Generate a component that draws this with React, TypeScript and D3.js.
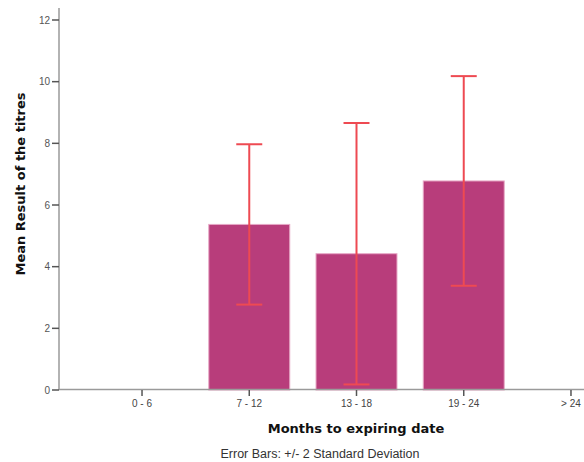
import React from "react";
import * as d3 from "d3";

const categories = ["0 - 6", "7 - 12", "13 - 18", "19 - 24", "> 24"];
const means: (number | null)[] = [null, 5.37, 4.42, 6.78, null];
const errHalf: (number | null)[] = [null, 2.6, 4.24, 3.4, null];
const yTicks = [0, 2, 4, 6, 8, 10, 12];

const W = 584;
const H = 462;

export default function App() {
  const y = d3.scaleLinear().domain([0, 12]).range([390, 20]);
  const x = d3
    .scaleBand<string>()
    .domain(categories)
    .range([88.4, 624.6])
    .paddingInner(0.245)
    .paddingOuter(0.1225);
  const bw = x.bandwidth();
  const cx = (c: string) => (x(c) as number) + bw / 2;
  const font = "'Liberation Sans', Arial, sans-serif";
  const boldFont = "'DejaVu Sans', Verdana, sans-serif";
  return (
    <svg width={W} height={H} style={{ position: "absolute", left: 0, top: 0 }} fontFamily={font}>
      <rect width={W} height={H} fill="#fff" />
      {categories.map((c, i) =>
        means[i] == null ? null : (
          <rect key={c} x={x(c)} y={y(means[i] as number)} width={bw} height={y(0) - y(means[i] as number)}
            fill="#B83D7B" stroke="#E7A8C6" strokeWidth={1} />
        )
      )}
      <line x1={59} x2={59} y1={8} y2={390} stroke="#9a9a9a" strokeWidth={1.5} />
      <line x1={59} x2={584} y1={389.5} y2={389.5} stroke="#9a9a9a" strokeWidth={1.5} />
      {yTicks.map((t) => (
        <g key={t}>
          <line x1={52} x2={59} y1={y(t)} y2={y(t)} stroke="#555" strokeWidth={1.5} />
          <text x={50} y={y(t) + 3.5} textAnchor="end" fontSize={10} fill="#555">{t}</text>
        </g>
      ))}
      {categories.map((c) => (
        <g key={c}>
          <line x1={cx(c)} x2={cx(c)} y1={390} y2={396} stroke="#555" strokeWidth={1.5} />
          <text x={cx(c)} y={407} textAnchor="middle" fontSize={10} fill="#444">{c}</text>
        </g>
      ))}
      {categories.map((c, i) => {
        if (means[i] == null) return null;
        const m = means[i] as number;
        const e = errHalf[i] as number;
        const px = cx(c);
        return (
          <g key={"e" + c} stroke="#EE4A52" strokeWidth={2}>
            <line x1={px} x2={px} y1={y(m + e)} y2={y(m - e)} />
            <line x1={px - 13} x2={px + 13} y1={y(m + e)} y2={y(m + e)} />
            <line x1={px - 13} x2={px + 13} y1={y(m - e)} y2={y(m - e)} />
          </g>
        );
      })}
      <text transform="translate(25,184) rotate(-90)" textAnchor="middle" fontSize={13} fontWeight="bold"
        fill="#111" fontFamily={boldFont}>
        Mean Result of the titres
      </text>
      <text x={356} y={433} textAnchor="middle" fontSize={13} fontWeight="bold" fill="#111" fontFamily={boldFont}>
        Months to expiring date
      </text>
      <text x={320} y={458} textAnchor="middle" fontSize={12.5} fill="#333">
        Error Bars: +/- 2 Standard Deviation
      </text>
    </svg>
  );
}
